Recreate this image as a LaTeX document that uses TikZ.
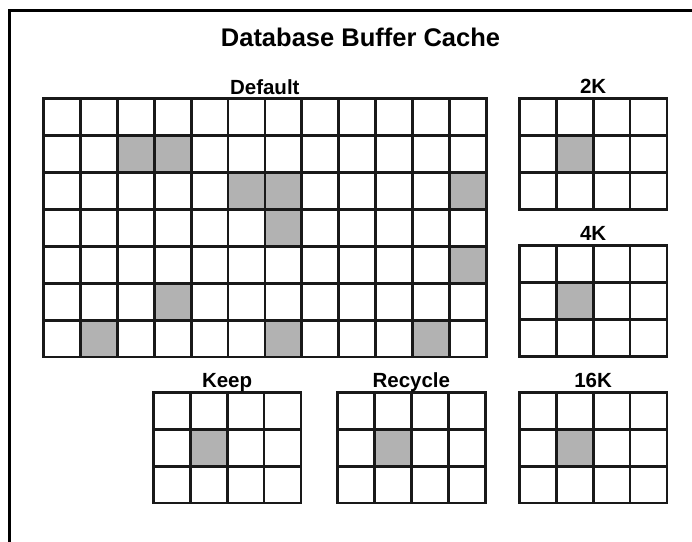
\documentclass[tikz,border=0pt]{standalone}
\usepackage{fontspec}
\setmainfont{Liberation Sans}
\usepackage{xcolor}
\usepackage{tikz}

\begin{document}
\begin{tikzpicture}[x=1pt, y=-1pt,
    cellbox/.style={draw=black!90, line width=2.8pt},
    usedcell/.style={fill=black!30},
    poolname/.style={anchor=base, inner sep=0pt, font=\bfseries\fontsize{20.5}{22}\selectfont},
    titlename/.style={anchor=base, inner sep=0pt, font=\bfseries\fontsize{25.5}{28}\selectfont}]

    \useasboundingbox (0,0) rectangle (692,541);
    \def\cs{36.9}

    % Frame (open at right and bottom)
    \draw[line width=3pt] (9,545) -- (9,10) -- (695,10);

    % Title
    \node[titlename] (title) at (360.5,46.5) {Database Buffer Cache};

    % Default pool: used buffers (column,row)
    \foreach \c/\r in {2/1, 3/1, 5/2, 6/2, 11/2, 6/3, 11/4, 3/5, 1/6, 6/6, 10/6}
        \fill[usedcell] (43.5+\c*\cs,98.7+\r*\cs) rectangle ++(\cs,\cs);
    \foreach \c in {0,...,11}
        \foreach \r in {0,...,6}
            \draw[cellbox] (43.5+\c*\cs,98.7+\r*\cs) rectangle ++(\cs,\cs);
    \node[poolname] (default) at (264.8,94) {Default};

    % Small pools: x, y, name
    \foreach \x/\y/\name/\lbl in {519.3/98.7/2K/2K, 519.3/245.4/4K/4K, 519.3/392.3/16K/16K,
                                  153.3/392.3/keep/Keep, 337.5/392.3/recycle/Recycle} {
        \fill[usedcell] (\x+\cs,\y+\cs) rectangle ++(\cs,\cs);
        \foreach \c in {0,...,3}
            \foreach \r in {0,...,2}
                \draw[cellbox] (\x+\c*\cs,\y+\r*\cs) rectangle ++(\cs,\cs);
        \node[poolname] (\name) at (\x+2*\cs,\y-5) {\lbl};
    }

\end{tikzpicture}
\end{document}
